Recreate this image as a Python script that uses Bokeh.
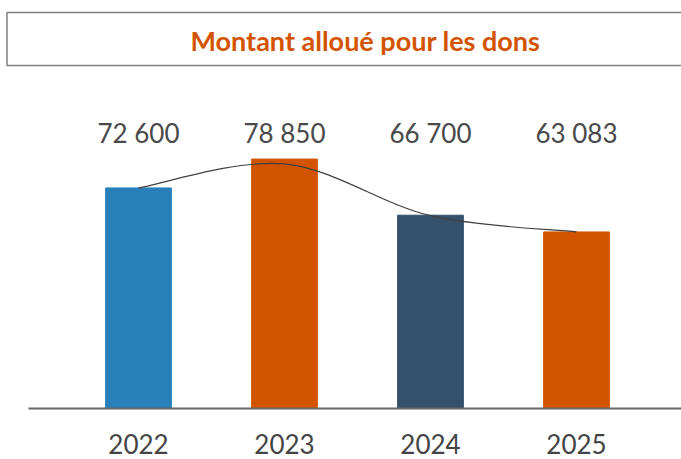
from bokeh.plotting import figure
from bokeh.models import Range1d, BoxAnnotation
from bokeh.core.properties import value
from bokeh.embed import file_html
from bokeh.resources import INLINE

# ---- data ----
title_text = "Montant alloué pour les dons"
years = ["2022", "2023", "2024", "2025"]
amounts = [72600, 78850, 66700, 63083]
amount_labels = ["72 600", "78 850", "66 700", "63 083"]
trend = [72600, 77800, 66600, 63083]
bar_colors = ["#2980B9", "#D35400", "#34506B", "#D35400"]
baseline = 25000

xs = list(range(len(years)))

# ---- geometry helpers (screen px -> data) ----
W, H = 681, 459
PX_PER_X = 146.0          # pixels per category step
UNITS_PER_PX = 216.3      # value units per vertical pixel
X0_PX = 138.0             # screen x of first category
BASE_PX = 407.5           # screen y of the baseline


def px(sx):
    return (sx - X0_PX) / PX_PER_X


def py(sy):
    return baseline + (BASE_PX - sy) * UNITS_PER_PX


p = figure(width=W, height=H, x_range=Range1d(px(0), px(W)),
           y_range=Range1d(py(H), py(0)), output_backend="svg",
           toolbar_location=None, min_border=0)
p.xaxis.visible = False
p.yaxis.visible = False
p.grid.visible = False
p.outline_line_color = None

# title box + title
p.add_layout(BoxAnnotation(left=px(6.5), right=px(W + 20), top=py(12), bottom=py(65),
                           fill_alpha=0, line_color="#808080", line_alpha=1.0,
                           line_width=1.5, level="underlay"))
p.text(x=[px(365)], y=[py(40)], text=[title_text], text_font=value("Lato"),
       text_font_style="bold", text_font_size="27px", text_color="#D35400",
       text_align="center", text_baseline="middle")

# bars
p.vbar(x=xs, top=amounts, bottom=baseline, width=0.45, color=bar_colors)

# axis line
p.segment(x0=[px(28)], x1=[px(W)], y0=[py(408)], y1=[py(408)],
          line_color="#666666", line_width=2)

# smooth (Catmull-Rom) trend line as bezier segments
n = len(trend)
x0, y0, x1, y1, cx0, cy0, cx1, cy1 = [], [], [], [], [], [], [], []
for i in range(n - 1):
    pm = max(i - 1, 0)
    pp = min(i + 2, n - 1)
    x0.append(xs[i]); y0.append(trend[i])
    x1.append(xs[i + 1]); y1.append(trend[i + 1])
    cx0.append(xs[i] + (xs[i + 1] - xs[pm]) / 6)
    cy0.append(trend[i] + (trend[i + 1] - trend[pm]) / 6)
    cx1.append(xs[i + 1] - (xs[pp] - xs[i]) / 6)
    cy1.append(trend[i + 1] - (trend[pp] - trend[i]) / 6)
p.bezier(x0=x0, y0=y0, x1=x1, y1=y1, cx0=cx0, cy0=cy0, cx1=cx1, cy1=cy1,
         line_color="#404040", line_width=1.2)

# value labels
p.text(x=xs, y=[py(132)] * n, text=amount_labels,
       text_font=value("Lato"), text_font_size="26px", text_color="#4a4a4a",
       text_align="center", text_baseline="middle")

# category labels
p.text(x=xs, y=[py(443)] * n, text=years,
       text_font=value("Lato"), text_font_size="26px", text_color="#444444",
       text_align="center", text_baseline="middle")

open("out.html", "w").write(file_html(p, INLINE))
